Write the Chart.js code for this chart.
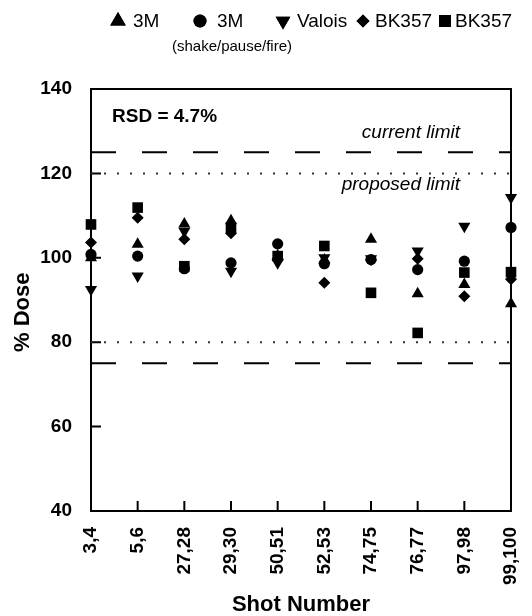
<!DOCTYPE html>
<html>
<head>
<meta charset="utf-8">
<script src="https://cdn.jsdelivr.net/npm/chart.js@4.4.1/dist/chart.umd.min.js"></script>
<style>
  html, body { margin: 0; padding: 0; background: #fff; }
  #wrap { width: 532px; height: 616px; }
</style>
</head>
<body>
<div id="wrap"><canvas id="myChart" width="532" height="616"></canvas></div>
<script>
// data
const shots = ['3,4', '5,6', '27,28', '29,30', '50,51', '52,53', '74,75', '76,77', '97,98', '99,100'];
const threeM = [100, 103.2, 108, 108.8, 100.5, 99.5, 104.4, 91.5, 93.7, 89.1];
const threeMShake = [100.8, 100.4, 97.4, 98.8, 103.3, 98.6, 99.6, 97.2, 99.2, 107.2];
const valois = [92.5, 95.7, 106.3, 96.8, 98.8, 100, 99.8, 101.6, 107.5, 114.3];
const bk357Diamond = [103.6, 109.5, 104.4, 105.8, 99.5, 94.1, 99.5, 99.8, 90.9, 94.9];
const bk357Square = [107.9, 111.9, 98, 107.2, 100.4, 102.8, 91.7, 82.2, 96.5, 96.6];
const currentLimit = [75, 125];
const proposedLimit = [80, 120];
const yTicks = [40, 60, 80, 100, 120, 140];

const FONT = "'Liberation Sans', Arial, sans-serif";

function series(label, values, style, radius, rotation) {
  return {
    label: label,
    data: values,
    showLine: false,
    pointStyle: style,
    pointRadius: radius,
    pointHoverRadius: radius,
    pointRotation: rotation || 0,
    pointBackgroundColor: '#000',
    pointBorderColor: '#000',
    pointBorderWidth: 0,
    clip: false
  };
}

const data = {
  labels: shots,
  datasets: [
    series('3M', threeM, 'triangle', 7),
    series('3M (shake/pause/fire)', threeMShake, 'circle', 5.6),
    series('Valois', valois, 'triangle', 7, 180),
    series('BK357', bk357Diamond, 'rectRot', 6),
    series('BK357', bk357Square, 'rect', 7.5)
  ]
};

// frame, inward ticks, limit lines, notes, legend
const extras = {
  id: 'extras',
  beforeDatasetsDraw(chart) {
    const ctx = chart.ctx;
    const a = chart.chartArea;
    const y = chart.scales.y;
    const x = chart.scales.x;
    ctx.save();
    ctx.strokeStyle = '#000';
    ctx.lineWidth = 2;
    ctx.strokeRect(a.left, a.top, a.right - a.left, a.bottom - a.top);

    ctx.beginPath();
    yTicks.forEach(v => {
      const p = y.getPixelForValue(v);
      ctx.moveTo(a.left, p);
      ctx.lineTo(a.left + 10, p);
    });
    shots.forEach((s, i) => {
      const p = x.getPixelForValue(i);
      ctx.moveTo(p, a.bottom);
      ctx.lineTo(p, a.bottom - 10);
    });
    ctx.stroke();

    // current limit (dashed)
    ctx.setLineDash([25, 26]);
    ctx.beginPath();
    currentLimit.forEach(v => {
      const p = y.getPixelForValue(v);
      ctx.moveTo(a.left, p);
      ctx.lineTo(a.right, p);
    });
    ctx.stroke();

    // proposed limit (dotted)
    ctx.setLineDash([2, 11]);
    ctx.strokeStyle = '#333';
    ctx.beginPath();
    proposedLimit.forEach(v => {
      const p = y.getPixelForValue(v);
      ctx.moveTo(a.left, p);
      ctx.lineTo(a.right, p);
    });
    ctx.stroke();
    ctx.setLineDash([]);

    ctx.fillStyle = '#000';
    ctx.textBaseline = 'middle';
    ctx.textAlign = 'left';
    ctx.font = 'bold 19px ' + FONT;
    ctx.fillText('RSD = 4.7%', a.left + 21, a.top + 28);
    ctx.textAlign = 'right';
    ctx.font = 'italic 19px ' + FONT;
    ctx.fillText('current limit', a.right - 51, y.getPixelForValue(currentLimit[1]) - 20);
    ctx.fillText('proposed limit', a.right - 51, y.getPixelForValue(proposedLimit[1]) + 11);

    // legend: marker x, text x, text, dataset, marker radius
    const items = [
      [118, 133, '3M', 0, 9],
      [200, 217, '3M', 1, 6.5],
      [283, 297, 'Valois', 2, 8.5],
      [363, 375, 'BK357', 3, 6.5],
      [445, 455, 'BK357', 4, 8.5]
    ];
    ctx.font = '19px ' + FONT;
    ctx.textAlign = 'left';
    items.forEach(it => {
      const ds = chart.data.datasets[it[3]];
      Chart.helpers.drawPoint(ctx, {
        pointStyle: ds.pointStyle,
        radius: it[4],
        rotation: ds.pointRotation,
        borderWidth: 0
      }, it[0], 21);
      ctx.fillStyle = '#000';
      ctx.fill();
      ctx.fillText(it[2], it[1], 22);
    });
    ctx.font = '15px ' + FONT;
    ctx.textAlign = 'center';
    ctx.fillText('(shake/pause/fire)', 232, 47);
    ctx.restore();
  }
};

const config = {
  type: 'line',
  data,
  options: {
    responsive: false,
    animation: false,
    events: [],
    layout: { padding: { top: 89, right: 21, bottom: 0, left: 0 } },
    scales: {
      x: {
        type: 'category',
        offset: false,
        afterFit(scale) {
          scale.height = 105;
          scale.paddingRight = 0;
          scale.paddingLeft = 0;
        },
        grid: { display: false, drawTicks: false },
        border: { display: false },
        ticks: {
          autoSkip: false,
          minRotation: 90,
          maxRotation: 90,
          padding: 16,
          color: '#000',
          font: { family: FONT, size: 19, weight: 'bold' }
        },
        title: {
          display: true,
          text: 'Shot Number',
          color: '#000',
          padding: 0,
          font: { family: FONT, size: 22, weight: 'bold', lineHeight: 1 }
        }
      },
      y: {
        min: 40,
        max: 140,
        afterFit(scale) { scale.width = 91; },
        grid: { display: false, drawTicks: false },
        border: { display: false },
        ticks: {
          stepSize: 20,
          padding: 19,
          color: '#000',
          font: { family: FONT, size: 19, weight: 'bold' }
        },
        title: {
          display: true,
          text: '% Dose    ',
          color: '#000',
          padding: { top: 12, bottom: 0 },
          font: { family: FONT, size: 22, weight: 'bold', lineHeight: 1 }
        }
      }
    },
    plugins: {
      legend: { display: false },
      tooltip: { enabled: false }
    }
  },
  plugins: [extras]
};

const myChart = new Chart(document.getElementById('myChart'), config);
</script>
</body>
</html>
